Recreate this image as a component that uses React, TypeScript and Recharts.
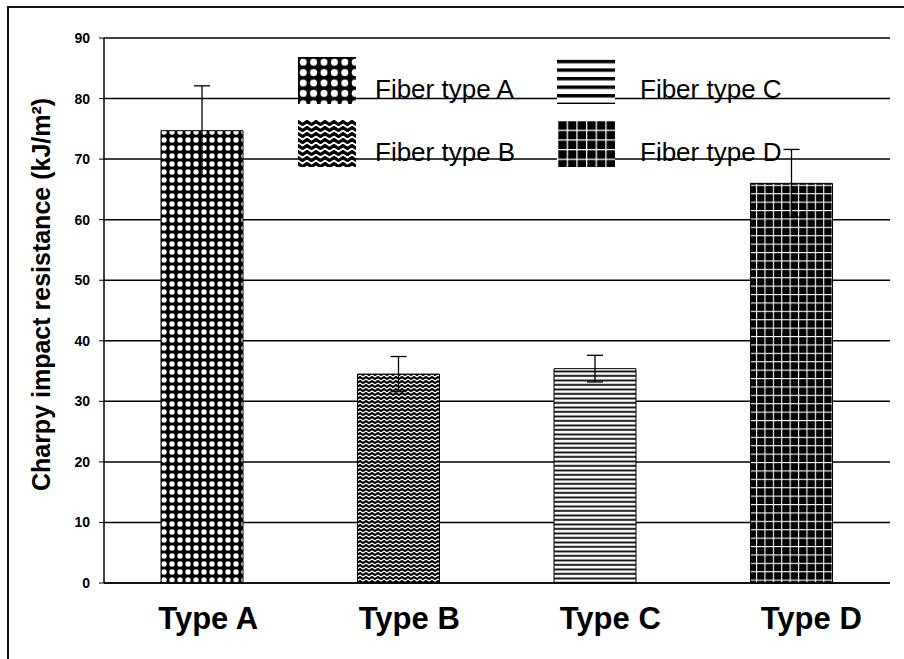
import React from "react";
import {
	BarChart,
	Bar,
	Cell,
	XAxis,
	YAxis,
	CartesianGrid,
	ErrorBar,
} from "recharts";

const categories = ["Type A", "Type B", "Type C", "Type D"];
const resistance = [74.7, 34.5, 35.4, 66.0];
const resistanceErr = [7.4, 2.9, 2.2, 5.6];
const fiberNames = ["Fiber type A", "Fiber type B", "Fiber type C", "Fiber type D"];
const yTicks = [0, 10, 20, 30, 40, 50, 60, 70, 80, 90];

const patternKeys = ["A", "B", "C", "D"];

const data = categories.map((name, i) => ({
	name,
	value: resistance[i],
	err: resistanceErr[i],
}));

// hatch fills, prefix keeps ids unique between chart and legend
function Patterns({ prefix, scale }: { prefix: string; scale: number[] }) {
	const t = (i: number) => `scale(${scale[i]})`;
	return (
		<defs>
			<pattern id={`${prefix}A`} width={8} height={8} patternUnits="userSpaceOnUse" patternTransform={t(0)}>
				<rect width={8} height={8} fill="#000" />
				<circle cx={4} cy={4} r={2.7} fill="#fff" />
			</pattern>
			<pattern id={`${prefix}B`} width={6} height={4} patternUnits="userSpaceOnUse" patternTransform={t(1)}>
				<rect width={6} height={4} fill="#fff" />
				<path d="M-1.5 3 L0 1 L3 3 L6 1 L7.5 3" stroke="#000" strokeWidth={2.1} fill="none" />
			</pattern>
			<pattern id={`${prefix}C`} width={4.5} height={4.5} patternUnits="userSpaceOnUse" patternTransform={t(2)}>
				<rect width={4.5} height={4.5} fill="#fff" />
				<rect y={1.5} width={4.5} height={1.8} fill="#000" />
			</pattern>
			<pattern id={`${prefix}D`} width={8.4} height={8.4} patternUnits="userSpaceOnUse" patternTransform={t(3)}>
				<rect width={8.4} height={8.4} fill="#000" />
				<rect x={0} y={0} width={1.1} height={8.4} fill="#fff" />
				<rect x={0} y={0} width={8.4} height={1.1} fill="#fff" />
			</pattern>
		</defs>
	);
}

// category labels in the original sit slightly right of their bars, more so further right
function TypeTick(props: any) {
	const { x, y, payload, index } = props;
	return (
		<text x={x + 6 + index * 4.5} y={y} dy="0.71em" textAnchor="middle" fill="#000" fontSize={31} fontWeight={700}>
			{payload.value}
		</text>
	);
}

function FiberLegend() {
	return (
		<div
			style={{
				position: "absolute",
				left: 298,
				top: 57,
				display: "grid",
				gridTemplateColumns: "259px 259px",
				gridTemplateRows: "63px 63px",
				gridAutoFlow: "column",
				fontFamily: "'Liberation Sans', Arial, sans-serif",
				fontSize: 26,
			}}
		>
			{fiberNames.map((label, i) => (
				<div key={label} style={{ display: "flex", alignItems: "flex-end", height: 47 }}>
					<svg width={58} height={47} style={{ display: "block", flex: "none" }}>
						<Patterns prefix={`leg${i}`} scale={[1.3, 1.5, 1.9, 1.15]} />
						<rect width={58} height={47} fill={`url(#leg${i}${patternKeys[i]})`} />
					</svg>
					<span
						style={{
							marginLeft: i < 2 ? 19 : 25,
							lineHeight: "26px",
							marginBottom: 2,
							whiteSpace: "nowrap",
						}}
					>
						{label}
					</span>
				</div>
			))}
		</div>
	);
}

export default function App() {
	return (
		<div
			style={{
				position: "absolute",
				left: 0,
				top: 0,
				width: 904,
				height: 659,
				overflow: "hidden",
				background: "#fff",
				fontFamily: "'Liberation Sans', Arial, sans-serif",
			}}
		>
			<div
				style={{
					position: "absolute",
					left: 7,
					top: 6,
					width: 1000,
					height: 1000,
					borderTop: "2px solid #111",
					borderLeft: "2px solid #111",
				}}
			/>
			<BarChart
				width={904}
				height={659}
				data={data}
				margin={{ top: 38, right: 14, bottom: 16, left: 44 }}
				style={{ position: "absolute", left: 0, top: 0 }}
			>
				<Patterns prefix="bar" scale={[1, 1, 1, 1]} />
				<CartesianGrid vertical={false} stroke="#000" strokeWidth={1.5} />
				<XAxis
					dataKey="name"
					height={60}
					axisLine={{ stroke: "#000", strokeWidth: 1.5 }}
					tickLine={false}
					tickSize={0}
					tickMargin={24}
					tick={<TypeTick />}
				/>
				<YAxis
					domain={[0, 90]}
					ticks={yTicks}
					width={60}
					axisLine={{ stroke: "#000", strokeWidth: 1.5 }}
					tickLine={{ stroke: "#000" }}
					tickSize={5}
					tickMargin={9}
					tick={{ fill: "#000", fontSize: 14, fontWeight: 700 }}
					label={{
						value: "Charpy impact resistance (kJ/m²)",
						angle: -90,
						position: "insideLeft",
						offset: -3,
						dy: -16,
						style: { textAnchor: "middle", fontSize: 25, fontWeight: 700, fill: "#000" },
					}}
				/>
				<YAxis
					yAxisId="frame"
					orientation="right"
					domain={[0, 90]}
					width={0}
					tick={false}
					tickLine={false}
					axisLine={{ stroke: "#000", strokeWidth: 1.5 }}
				/>
				<Bar dataKey="value" barSize={82} stroke="#000" strokeWidth={1} isAnimationActive={false}>
					{data.map((d, i) => (
						<Cell key={d.name} fill={`url(#bar${patternKeys[i]})`} />
					))}
					<ErrorBar dataKey="err" width={8} stroke="#000" strokeWidth={1.3} />
				</Bar>
			</BarChart>
			<FiberLegend />
		</div>
	);
}
